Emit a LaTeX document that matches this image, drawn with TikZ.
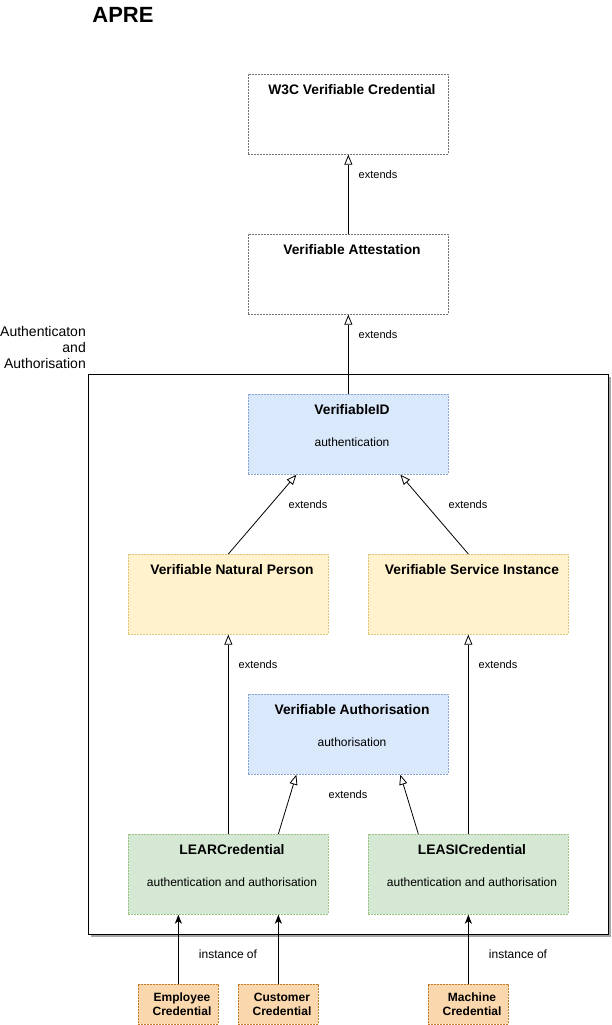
\documentclass[tikz,border=0pt]{standalone}
\usepackage{fontspec}
\setmainfont{Liberation Sans}
\usetikzlibrary{arrows.meta,shadows}
\definecolor{idfill}{HTML}{DAE8FC}
\definecolor{idline}{HTML}{6C8EBF}
\definecolor{npfill}{HTML}{FFF2CC}
\definecolor{npline}{HTML}{D6B656}
\definecolor{lrfill}{HTML}{D5E8D4}
\definecolor{lrline}{HTML}{82B366}
\definecolor{infill}{HTML}{FAD7AC}
\definecolor{inline}{HTML}{B46504}
\begin{document}
\begin{tikzpicture}[x=1pt,y=-1pt,
	cls/.style={minimum width=200pt, minimum height=80pt, inner sep=0pt, anchor=north west, dash pattern=on 2pt off 1pt, line width=0.7pt},
	inst/.style={minimum width=80pt, minimum height=40pt, inner sep=0pt, anchor=north west, dash pattern=on 2pt off 1pt, line width=0.7pt},
	grey/.style={draw=black!55},
	blue/.style={draw=idline!80, fill=idfill},
	yell/.style={draw=npline!80, fill=npfill},
	gren/.style={draw=lrline!80, fill=lrfill},
	oran/.style={draw=inline!85, fill=infill},
	hd/.style={font=\fontsize{13.8}{16}\selectfont\bfseries, anchor=base, inner sep=0pt},
	sub/.style={font=\fontsize{12}{14}\selectfont, anchor=base, inner sep=0pt},
	lbl/.style={font=\fontsize{11}{13}\selectfont, anchor=base, inner sep=0pt},
	ext/.style={-{Triangle[open,length=10pt,width=8pt]}, line width=0.8pt},
	ins/.style={-{Stealth[length=9pt,width=7pt,inset=2.5pt]}, line width=1pt}]
	\useasboundingbox (0,0) rectangle (611,1025);
	\node[font=\fontsize{22}{26}\selectfont\bfseries, anchor=base, inner sep=0pt] (title) at (123,23) {APRE};
	\node[draw, fill=white, line width=1pt, minimum width=520pt, minimum height=560pt, inner sep=0pt, anchor=north west,
		drop shadow={shadow xshift=2pt, shadow yshift=-2pt, fill=black!35, opacity=1}] (cont) at (88,374) {};
	\node[font=\fontsize{14}{16}\selectfont, align=right, anchor=north east, inner sep=0pt] (contname) at (86,326.5) {Authenticaton\\and\\Authorisation};
	\node[cls, grey] (w3c) at (248,74) {};
	\node[cls, grey] (va) at (248,234) {};
	\node[cls, blue] (vid) at (248,394) {};
	\node[cls, yell] (vnp) at (128,554) {};
	\node[cls, yell] (vsi) at (368,554) {};
	\node[cls, blue] (vau) at (248,694) {};
	\node[cls, gren] (lear) at (128,834) {};
	\node[cls, gren] (leasi) at (368,834) {};
	\node[inst, oran] (emp) at (138,984) {};
	\node[inst, oran] (cus) at (238,984) {};
	\node[inst, oran] (mac) at (428,984) {};
	\node[hd] (w3ct) at (352,94) {W3C Verifiable Credential};
	\node[hd] (vat) at (352,254) {Verifiable Attestation};
	\node[hd] (vidt) at (352,414) {VerifiableID};
	\node[sub] (vids) at (352,446) {authentication};
	\node[hd] (vnpt) at (232,574) {Verifiable Natural Person};
	\node[hd] (vsit) at (472,574) {Verifiable Service Instance};
	\node[hd] (vaut) at (352,714) {Verifiable Authorisation};
	\node[sub] (vaus) at (352,746) {authorisation};
	\node[hd] (leart) at (232,854) {LEARCredential};
	\node[sub] (lears) at (232,886) {authentication and authorisation};
	\node[hd] (leasit) at (472,854) {LEASICredential};
	\node[sub] (leasis) at (472,886) {authentication and authorisation};
	\node[font=\fontsize{12}{14}\selectfont\bfseries, align=center, anchor=north, inner sep=0pt] (empt) at (182,993) {Employee\\Credential};
	\node[font=\fontsize{12}{14}\selectfont\bfseries, align=center, anchor=north, inner sep=0pt] (cust) at (282,993) {Customer\\Credential};
	\node[font=\fontsize{12}{14}\selectfont\bfseries, align=center, anchor=north, inner sep=0pt] (mact) at (472,993) {Machine\\Credential};
	\draw[ext] (va.north) -- (w3c.south);
	\draw[ext] (vid.north) -- (va.south);
	\draw[ext] (vnp.north) -- ([xshift=-52pt]vid.south);
	\draw[ext] (vsi.north) -- ([xshift=52pt]vid.south);
	\draw[ext] (lear.north) -- (vnp.south);
	\draw[ext] (leasi.north) -- (vsi.south);
	\draw[ext] ([xshift=50pt]lear.north) -- ([xshift=-52pt]vau.south);
	\draw[ext] ([xshift=-50pt]leasi.north) -- ([xshift=52pt]vau.south);
	\draw[ins] (emp.north) -- ([xshift=-50pt]lear.south);
	\draw[ins] (cus.north) -- ([xshift=50pt]lear.south);
	\draw[ins] (mac.north) -- (leasi.south);
	\node[lbl] (e1) at (378,178) {extends};
	\node[lbl] (e2) at (378,338) {extends};
	\node[lbl] (e3) at (308,508) {extends};
	\node[lbl] (e4) at (468,508) {extends};
	\node[lbl] (e5) at (258,668) {extends};
	\node[lbl] (e6) at (498,668) {extends};
	\node[lbl] (e7) at (348,798) {extends};
	\node[sub] (i1) at (228,958) {instance of};
	\node[sub] (i2) at (518,958) {instance of};
\end{tikzpicture}
\end{document}
